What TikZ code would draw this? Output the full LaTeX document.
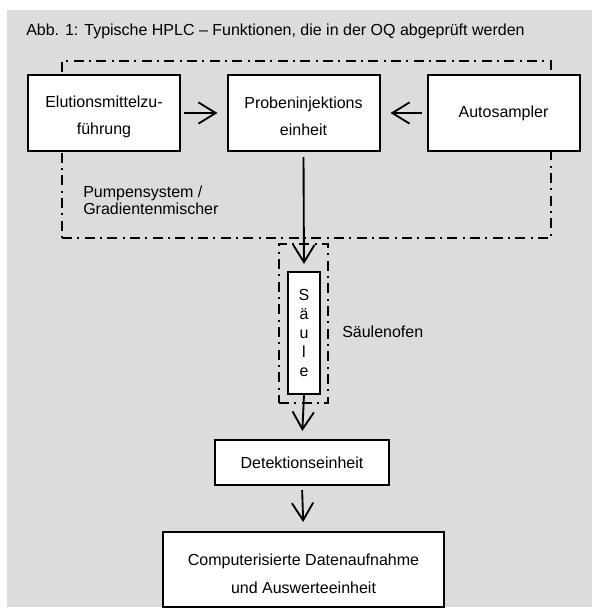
\documentclass[tikz,border=0pt]{standalone}
\usepackage{fontspec}
\setmainfont{Liberation Sans}
\usetikzlibrary{arrows.meta}
\definecolor{hintergrund}{RGB}{220,220,220}

\begin{document}
\begin{tikzpicture}[x=0.75pt, y=-0.75pt,
		kasten/.style={shape=rectangle, draw, line width=1.5pt, fill=white, inner sep=0pt},
		rahmen/.style={shape=rectangle, draw, line width=1.5pt, dash pattern=on 7.5pt off 4pt on 1.5pt off 4pt, inner sep=0pt},
		pfeil/.style={line width=1.4pt, -{Straight Barb[length=13pt, width=16pt]}},
		schrift/.style={font=\fontsize{12}{20.25}\selectfont, align=center, inner sep=0pt}]
		% Paths, nodes and wires:
		\useasboundingbox[fill=white] (0,0) rectangle (592,608);
		\fill[hintergrund] (7,10) rectangle (592,607);
		\node[anchor=base west, inner sep=0pt, font=\fontsize{12}{14}\selectfont](titel) at (26,35){Abb. 1: Typische HPLC -- Funktionen, die in der OQ abgeprüft werden};
		\node[rahmen, minimum width=366.75pt, minimum height=132.75pt](pumpe) at (306.5,149.5){};
		\node[rahmen, minimum width=36.75pt, minimum height=119.25pt](ofen) at (303.5,323.5){};
		\node[kasten, minimum width=114pt, minimum height=57pt](elution) at (104,113){} node[schrift] at ([yshift=-2.6pt]elution.center){Elutionsmittelzu-\\führung};
		\node[kasten, minimum width=114pt, minimum height=57pt](injektion) at (303.5,113){} node[schrift] at ([yshift=-2.6pt]injektion.center){Probeninjektions\\einheit};
		\node[kasten, minimum width=114pt, minimum height=57pt](autosampler) at (503.5,113){} node[schrift] at (autosampler.center){Autosampler};
		\node[kasten, minimum width=24pt, minimum height=91.5pt](saeule) at (304,333){} node[schrift, font=\fontsize{12}{14.25}\selectfont] at (saeule.center){S\\ä\\u\\l\\e};
		\node[kasten, minimum width=130.5pt, minimum height=33.75pt](detektion) at (302,462.5){} node[schrift] at (detektion.center){Detektionseinheit};
		\node[kasten, minimum width=210.75pt, minimum height=56.25pt](daten) at (303.5,569.5){} node[schrift, font=\fontsize{12}{21}\selectfont] at ([yshift=-3.4pt]daten.center){Computerisierte Datenaufnahme\\und Auswerteeinheit};
		\node[schrift, align=left, anchor=west, font=\fontsize{12}{12.75}\selectfont](pumpentext) at (83,200.5){Pumpensystem /\\Gradientenmischer};
		\node[schrift, anchor=west](ofentext) at (342,332){Säulenofen};
		\draw[pfeil, shorten <=2.25pt, shorten >=6.75pt] (elution.east) -- (injektion.west);
		\draw[pfeil, shorten <=3.75pt, shorten >=7.5pt] (autosampler.west) -- (injektion.east);
		\draw[pfeil, shorten <=3.75pt, shorten >=5.25pt] (injektion.south) -- (saeule.north);
		\draw[pfeil, shorten >=6pt] (saeule.south) -- (detektion.north);
		\draw[pfeil, shorten <=3pt, shorten >=6.75pt] (detektion.south) -- (daten.north);
	\end{tikzpicture}
\end{document}
